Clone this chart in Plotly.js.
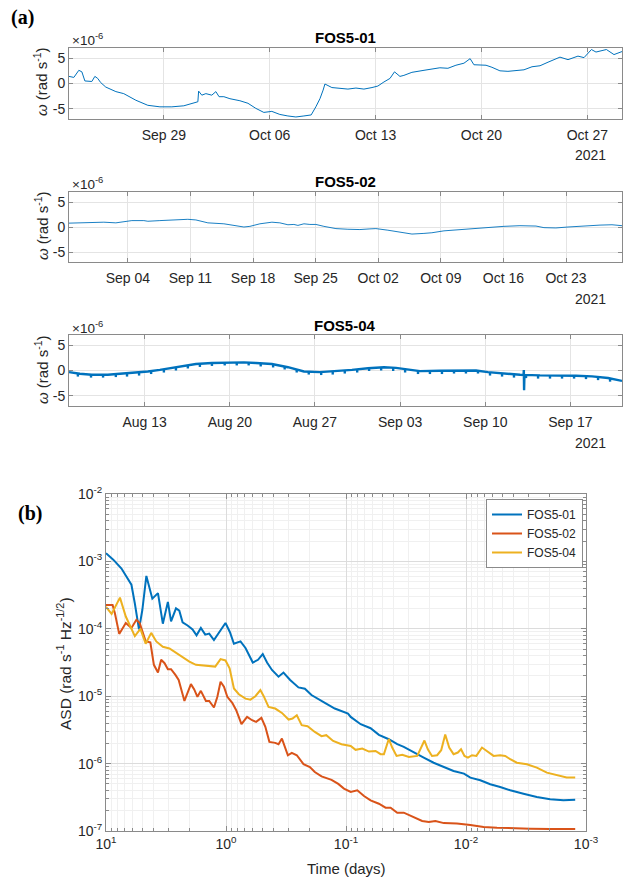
<!DOCTYPE html>
<html><head><meta charset="utf-8">
<script src="https://cdn.plot.ly/plotly-3.0.1.min.js"></script>
<style>body{margin:0;background:#fff}#chart{width:629px;height:877px}</style>
</head><body><div id="chart"></div>
<script>
// ---------- Panel (a): FOS5-01 (days since 2021-09-29, values x1e-6 rad/s) ----------
const p1Days = [-6.27,-5.95,-5.62,-5.42,-5.22,-5.03,-4.76,-4.56,-4.37,-4.18,-3.84,-3.17,-2.65,-1.85,-1.06,-0.26,0.53,1.32,1.85,2.25,2.30,2.51,2.78,3.17,3.44,3.65,3.97,4.37,5.03,5.56,6.08,6.61,7.14,7.67,8.20,8.73,9.26,9.74,10.05,10.32,10.53,10.65,11.11,11.64,12.17,12.70,13.23,13.76,14.15,14.55,14.95,15.25,15.61,15.87,16.40,17.20,17.72,18.25,18.78,19.31,19.84,20.25,20.50,20.90,21.30,21.69,22.22,22.75,23.28,23.81,24.34,24.87,25.40,25.79,26.19,26.72,27.38,27.78,28.27,28.57,29.26,29.76,30.29];
const p1Vals = [1.4,1.2,2.6,2.3,0.5,0.4,0.4,1.4,1.0,0.2,-0.7,-1.6,-2.0,-3.3,-4.3,-4.6,-4.6,-4.4,-3.9,-3.6,-1.5,-2.3,-2.0,-2.3,-1.6,-2.6,-2.6,-3.0,-3.4,-3.9,-4.9,-5.7,-5.5,-6.1,-6.4,-6.6,-6.4,-6.2,-4.6,-3.0,-1.3,-0.1,-0.8,-1.0,-1.1,-0.9,-1.1,-0.8,-0.5,0.3,1.0,2.3,1.4,1.6,2.2,2.6,2.9,3.1,3.0,3.6,4.0,4.9,3.7,3.7,3.6,3.2,2.5,2.4,2.6,2.7,3.3,3.5,4.2,4.7,5.2,4.7,5.4,5.1,6.7,6.2,6.7,5.7,6.3];
const p1TickDays = [0,7,14,21,28];
const p1TickText = ['Sep 29','Oct 06','Oct 13','Oct 20','Oct 27'];

// ---------- FOS5-02 (days since 2021-09-04) ----------
const p2Days = [-6.58,-4.03,-2.68,-1.34,-0.45,0.45,1.79,2.24,3.58,5.37,6.71,7.61,8.95,10.74,12.08,12.98,13.65,14.77,16.11,17.00,17.90,18.57,19.02,19.69,20.36,21.03,21.92,23.27,24.61,25.95,27.07,27.74,29.08,30.43,31.77,33.11,34.00,35.35,37.14,38.93,40.72,42.06,43.85,45.64,46.53,47.87,49.22,51.01,52.80,54.14,55.26];
const p2Vals = [0.77,0.83,0.96,0.83,1.09,1.28,1.28,1.15,1.28,1.41,1.54,1.41,0.83,0.64,0.32,0.0,0.13,0.64,0.96,0.83,0.45,0.51,0.32,0.64,0.51,0.51,0.13,-0.32,-0.45,-0.51,-0.38,-0.32,-0.64,-1.09,-1.41,-1.28,-1.15,-0.77,-0.51,-0.32,0.06,0.13,0.26,0.19,-0.13,-0.19,0.0,0.26,0.38,0.45,0.26];
const p2TickDays = [0,7,14,21,28,35,42,49];
const p2TickText = ['Sep 04','Sep 11','Sep 18','Sep 25','Oct 02','Oct 09','Oct 16','Oct 23'];

// ---------- FOS5-04 (days since 2021-08-13) ----------
const p3Days = [-6.22,-5.33,-4.34,-3.03,-2.04,-0.72,0.26,1.25,2.24,3.22,4.21,5.53,6.84,8.16,9.14,10.46,11.78,13.09,14.41,15.72,17.04,18.36,19.67,20.66,21.64,22.63,24.28,25.92,27.24,28.22,29.54,30.86,31.15,31.17,31.19,31.22,32.50,34.14,35.46,36.78,38.09,39.24];
const p3Vals = [-0.32,-0.65,-0.84,-0.84,-0.65,-0.45,-0.19,0.13,0.52,0.97,1.29,1.48,1.61,1.61,1.48,1.29,0.65,-0.19,-0.32,-0.13,0.13,0.45,0.65,0.52,0.13,-0.13,-0.06,0.0,0.0,-0.32,-0.65,-0.84,-0.87,0.1,-3.9,-0.87,-0.97,-0.97,-1.03,-1.16,-1.48,-2.06];
// daily notches in the FOS5-04 record (top and bottom of each notch)
const p3DipDays = [-5.49,-4.41,-3.42,-2.37,-1.45,-0.46,0.53,1.58,2.57,3.55,4.54,5.53,6.58,7.57,8.55,9.54,10.56,11.51,12.50,13.49,14.51,15.46,16.45,17.47,18.45,19.44,20.43,21.41,22.47,23.45,24.44,25.43,26.41,27.40,28.39,29.38,30.36,31.35,32.34,33.32,34.31,35.30,36.28,37.27,38.26];
const p3DipTop = [-0.60,-0.82,-0.84,-0.72,-0.57,-0.41,-0.10,0.25,0.67,1.05,1.34,1.48,1.59,1.61,1.56,1.43,1.25,0.80,0.20,-0.23,-0.31,-0.17,0.01,0.24,0.50,0.62,0.55,0.22,-0.09,-0.10,-0.06,-0.02,0.0,-0.04,-0.36,-0.61,-0.77,-0.86,-0.96,-0.97,-0.98,-1.02,-1.11,-1.28,-1.55];
const p3DipBottom = [-1.2,-1.4,-1.4,-1.3,-1.2,-1.0,-0.7,-0.4,0.0,0.4,0.7,0.9,1.0,1.0,1.0,0.8,0.6,0.2,-0.4,-0.8,-0.9,-0.8,-0.6,-0.4,-0.1,0.0,-0.1,-0.4,-0.7,-0.7,-0.7,-0.6,-0.6,-0.6,-1.0,-1.2,-1.4,-1.5,-1.6,-1.6,-1.6,-1.6,-1.7,-1.9,-2.2];
const p3TickDays = [0,7,14,21,28,35];
const p3TickText = ['Aug 13','Aug 20','Aug 27','Sep 03','Sep 10','Sep 17'];

const yTickVals = [-5,0,5];
const yTickText = ['-5','0','5'];

// ---------- Panel (b): ASD vs time (days) ----------
const asdNames = ['FOS5-01','FOS5-02','FOS5-04'];
const blueT = [10,8.70,7.43,6.14,5.75,5.31,4.98,4.61,4.11,3.69,3.36,3.05,2.87,2.61,2.45,2.30,2.09,1.90,1.76,1.62,1.49,1.38,1.26,1.14,1.01,0.927,0.859,0.757,0.688,0.598,0.541,0.494,0.455,0.414,0.365,0.332,0.292,0.249,0.220,0.194,0.170,0.150,0.124,0.0962,0.0914,0.0755,0.0624,0.0532,0.0440,0.0374,0.0330,0.0272,0.0225,0.0186,0.0153,0.0127,0.0104,0.00920,0.00760,0.00628,0.00519,0.00428,0.00332,0.00257,0.00199,0.00154,0.00123];
const blueA = [1.32e-3,1.06e-3,7.84e-4,4.51e-4,2.37e-4,9.8e-5,1.90e-4,6.08e-4,2.80e-4,3.38e-4,1.19e-4,2.51e-4,1.29e-4,2.01e-4,1.86e-4,1.25e-4,1.12e-4,9.8e-5,8.0e-5,1.03e-4,8.2e-5,8.5e-5,6.8e-5,8.9e-5,1.22e-4,8.9e-5,6.0e-5,6.5e-5,5.2e-5,3.16e-5,3.47e-5,4.22e-5,3.16e-5,2.45e-5,1.95e-5,2.24e-5,1.74e-5,1.35e-5,1.29e-5,1.04e-5,9.2e-6,7.96e-6,6.56e-6,5.53e-6,4.93e-6,3.84e-6,3.35e-6,2.67e-6,2.30e-6,1.94e-6,1.77e-6,1.46e-6,1.23e-6,1.03e-6,8.9e-7,7.78e-7,7.10e-7,6.19e-7,5.65e-7,4.93e-7,4.50e-7,4.02e-7,3.58e-7,3.20e-7,2.95e-7,2.85e-7,2.9e-7];
const redT = [10,8.81,8.43,7.76,6.84,6.14,5.58,5.24,4.67,4.27,3.99,3.69,3.47,3.25,3.05,2.87,2.64,2.48,2.22,2.09,1.96,1.84,1.73,1.62,1.47,1.38,1.26,1.18,1.11,1.04,0.975,0.887,0.822,0.743,0.667,0.606,0.561,0.507,0.470,0.435,0.389,0.365,0.342,0.305,0.283,0.257,0.226,0.200,0.182,0.160,0.132,0.116,0.104,0.0914,0.0805,0.0708,0.0624,0.0532,0.0468,0.0425,0.0374,0.0330,0.0272,0.0232,0.0204,0.0180,0.0153,0.0119,0.00920,0.00713,0.00552,0.00428,0.00292,0.00199,0.00123];
const redA = [2.25e-4,2.25e-4,1.70e-4,8.4e-5,1.22e-4,1.03e-4,1.36e-4,1.22e-4,6.5e-5,6.3e-5,2.92e-5,2.24e-5,3.47e-5,3.09e-5,2.51e-5,2.51e-5,2.07e-5,1.74e-5,8.5e-6,1.16e-5,1.51e-5,1.26e-5,9.8e-6,1.20e-5,8.5e-6,8.5e-6,6.8e-6,9.8e-6,1.64e-5,1.38e-5,9.8e-6,7.96e-6,6.2e-6,3.84e-6,4.93e-6,4.40e-6,4.16e-6,4.77e-6,3.51e-6,2.10e-6,2.03e-6,1.94e-6,2.35e-6,1.33e-6,1.44e-6,1.33e-6,9.8e-7,8.9e-7,7.5e-7,6.46e-7,5.75e-7,5.0e-7,4.26e-7,3.79e-7,4.02e-7,3.31e-7,2.85e-7,2.54e-7,2.22e-7,2.22e-7,1.87e-7,1.87e-7,1.58e-7,1.41e-7,1.36e-7,1.41e-7,1.31e-7,1.29e-7,1.23e-7,1.15e-7,1.12e-7,1.10e-7,1.08e-7,1.07e-7,1.07e-7];
const yelT = [10,8.98,7.65,6.84,5.75,5.17,4.67,4.20,3.81,3.36,2.96,2.61,2.30,2.02,1.78,1.57,1.38,1.23,1.11,1.01,0.933,0.859,0.782,0.688,0.625,0.569,0.517,0.485,0.442,0.389,0.342,0.301,0.279,0.257,0.234,0.209,0.182,0.160,0.146,0.128,0.109,0.0914,0.0832,0.0732,0.0644,0.0567,0.0515,0.0483,0.0440,0.0412,0.0379,0.0340,0.0299,0.0255,0.0222,0.0208,0.0192,0.0174,0.0161,0.0149,0.0138,0.0127,0.0117,0.0110,0.0103,0.00963,0.00891,0.00820,0.00736,0.00668,0.00589,0.00519,0.00471,0.00428,0.00377,0.00311,0.00257,0.00212,0.00175,0.00145,0.00123];
const yelA = [2.12e-4,1.66e-4,2.90e-4,1.52e-4,7.8e-5,1.0e-4,6.0e-5,8.7e-5,6.5e-5,5.4e-5,5.1e-5,4.37e-5,3.80e-5,3.27e-5,2.92e-5,2.85e-5,2.75e-5,2.75e-5,3.55e-5,3.39e-5,2.60e-5,1.30e-5,1.07e-5,9.2e-6,8.9e-6,1.0e-5,1.23e-5,1.0e-5,6.95e-6,6.56e-6,5.65e-6,4.50e-6,4.66e-6,5.22e-6,3.71e-6,3.58e-6,2.95e-6,2.55e-6,2.64e-6,2.17e-6,1.94e-6,1.83e-6,1.60e-6,1.67e-6,1.51e-6,1.54e-6,1.38e-6,1.38e-6,2.32e-6,1.73e-6,1.30e-6,1.35e-6,1.25e-6,1.30e-6,2.2e-6,1.63e-6,1.30e-6,1.33e-6,1.58e-6,2.7e-6,1.73e-6,1.38e-6,1.46e-6,1.63e-6,1.30e-6,1.23e-6,1.33e-6,1.30e-6,1.73e-6,1.51e-6,1.30e-6,1.33e-6,1.30e-6,1.16e-6,1.03e-6,9.8e-7,8.7e-7,7.35e-7,6.7e-7,6.2e-7,6.2e-7];
const logTickVals = [10,1,0.1,0.01,0.001];
const logTickText = ['10<sup>1</sup>','10<sup>0</sup>','10<sup>-1</sup>','10<sup>-2</sup>','10<sup>-3</sup>'];
const asdTickVals = [1e-7,1e-6,1e-5,1e-4,1e-3,1e-2];
const asdTickText = ['10<sup>-7</sup>','10<sup>-6</sup>','10<sup>-5</sup>','10<sup>-4</sup>','10<sup>-3</sup>','10<sup>-2</sup>'];

// ---------- helpers ----------
const W = 629, H = 877, DAY = 86400000;
const base1 = Date.UTC(2021,8,29), base2 = Date.UTC(2021,8,4), base3 = Date.UTC(2021,7,13);
const ms = (b, arr) => arr.map(d => b + d*DAY);
const px = x => x / W, py = y => 1 - y / H;
const C1 = '#0072BD', C2 = '#D95319', C3 = '#EDB120';
const FONT = 'Liberation Sans, Arial, sans-serif';
const axCol = '#8a8a8a', gridCol = '#e4e4e4', txtCol = '#262626';
const tf = {family: FONT, size: 14, color: txtCol};

const dipX = [], dipY = [];
p3DipDays.forEach((d, i) => { dipX.push(base3 + d*DAY, base3 + d*DAY, null); dipY.push(p3DipTop[i], p3DipBottom[i], null); });

const traces = [
  {x: ms(base1, p1Days), y: p1Vals, xaxis: 'x', yaxis: 'y', mode: 'lines', line: {color: C1, width: 1}, showlegend: false, hoverinfo: 'skip'},
  {x: ms(base2, p2Days), y: p2Vals, xaxis: 'x2', yaxis: 'y2', mode: 'lines', line: {color: C1, width: 0.9}, showlegend: false, hoverinfo: 'skip'},
  {x: ms(base3, p3Days), y: p3Vals, xaxis: 'x3', yaxis: 'y3', mode: 'lines', line: {color: C1, width: 2.4}, showlegend: false, hoverinfo: 'skip'},
  {x: dipX, y: dipY, xaxis: 'x3', yaxis: 'y3', mode: 'lines', line: {color: C1, width: 2.4}, showlegend: false, hoverinfo: 'skip', connectgaps: false},
  {x: blueT, y: blueA, xaxis: 'x4', yaxis: 'y4', mode: 'lines', name: asdNames[0], line: {color: C1, width: 2}},
  {x: redT, y: redA, xaxis: 'x4', yaxis: 'y4', mode: 'lines', name: asdNames[1], line: {color: C2, width: 2}},
  {x: yelT, y: yelA, xaxis: 'x4', yaxis: 'y4', mode: 'lines', name: asdNames[2], line: {color: C3, width: 2}}
];

const xDom = [px(69), px(622)];
function dateAxis(yanchor, base, range, tdays, ttext) {
  return {domain: xDom, anchor: yanchor, type: 'date', range: [base + range[0]*DAY, base + range[1]*DAY],
    tickmode: 'array', tickvals: ms(base, tdays), ticktext: ttext, showgrid: true, gridcolor: gridCol,
    showline: true, linecolor: axCol, linewidth: 1, mirror: 'ticks', ticks: 'inside', ticklen: 4, tickcolor: axCol,
    tickfont: tf, ticklabelstandoff: 3, zeroline: false, fixedrange: true};
}
function valAxis(xanchor, dom) {
  return {domain: dom, anchor: xanchor, range: [-7, 7], tickmode: 'array', tickvals: yTickVals, ticktext: yTickText,
    showgrid: true, gridcolor: gridCol, showline: true, linecolor: axCol, linewidth: 1, mirror: 'ticks', ticks: 'inside',
    ticklen: 4, tickcolor: axCol, tickfont: tf, zeroline: false, fixedrange: true};
}

const layout = {
  width: W, height: H, margin: {l: 0, r: 0, t: 0, b: 0}, paper_bgcolor: '#fff', plot_bgcolor: '#fff',
  font: {family: FONT, color: txtCol},
  xaxis: dateAxis('y', base1, [-6.27, 30.29], p1TickDays, p1TickText),
  yaxis: valAxis('x', [py(119), py(48)]),
  xaxis2: dateAxis('y2', base2, [-6.58, 55.26], p2TickDays, p2TickText),
  yaxis2: valAxis('x2', [py(262), py(192)]),
  xaxis3: dateAxis('y3', base3, [-6.22, 39.24], p3TickDays, p3TickText),
  yaxis3: valAxis('x3', [py(406), py(335)]),
  xaxis4: {domain: [px(106), px(586)], anchor: 'y4', type: 'log', range: [1, -3], tickmode: 'array',
    tickvals: logTickVals, ticktext: logTickText, showgrid: true, gridcolor: '#dcdcdc', showline: true, linecolor: axCol,
    mirror: 'ticks', ticks: 'inside', ticklen: 5, tickcolor: axCol, tickfont: tf, zeroline: false,
    minor: {dtick: 'D1', showgrid: true, gridcolor: '#f0f0f0', ticks: 'inside', ticklen: 3, tickcolor: axCol}},
  yaxis4: {domain: [py(831), py(494)], anchor: 'x4', type: 'log', range: [-7, -2], tickmode: 'array',
    tickvals: asdTickVals, ticktext: asdTickText, showgrid: true, gridcolor: '#dcdcdc', showline: true, linecolor: axCol,
    mirror: 'ticks', ticks: 'inside', ticklen: 5, tickcolor: axCol, tickfont: tf, zeroline: false,
    minor: {dtick: 'D1', showgrid: true, gridcolor: '#f0f0f0', ticks: 'inside', ticklen: 3, tickcolor: axCol}},
  showlegend: true,
  legend: {x: px(583), xanchor: 'right', y: py(499), yanchor: 'top', bgcolor: '#fff', bordercolor: axCol, borderwidth: 1,
    font: {family: FONT, size: 12, color: txtCol}, itemwidth: 30, tracegroupgap: 0},
  annotations: []
};

const A = layout.annotations;
function ann(text, x, y, opts) { A.push(Object.assign({text, x: px(x), y: py(y), xref: 'paper', yref: 'paper', showarrow: false,
  xanchor: 'center', yanchor: 'middle', font: {family: FONT, size: 14, color: txtCol}}, opts || {})); }
const serif = {family: 'Liberation Serif, Times New Roman, serif', size: 20, color: '#000'};
ann('<b>(a)</b>', 22, 17, {font: serif});
ann('<b>(b)</b>', 30, 513, {font: serif});
const titles = ['FOS5-01', 'FOS5-02', 'FOS5-04'];
const titleY = [37, 181, 325], xY = [39, 183, 327], tickYear = [155, 299, 443], midY = [82, 226, 370];
titles.forEach((t, i) => {
  ann('<b>' + t + '</b>', 345, titleY[i], {font: {family: FONT, size: 15, color: '#000'}});
  ann('×10<sup>-6</sup>', 70, xY[i], {xanchor: 'left', font: {family: FONT, size: 13.5, color: txtCol}});
  ann('2021', 590, tickYear[i], {});
  ann('<i>ω</i> (rad s<sup>-1</sup>)', 41, midY[i], {textangle: -90, font: {family: FONT, size: 15, color: txtCol}});
});
ann('ASD (rad s<sup>-1</sup> Hz<sup>-1/2</sup>)', 64, 664, {textangle: -90, font: {family: FONT, size: 15.5, color: txtCol}});
ann('Time (days)', 346, 868, {font: {family: FONT, size: 15, color: txtCol}});

Plotly.newPlot('chart', traces, layout, {staticPlot: true, displayModeBar: false});
</script></body></html>
